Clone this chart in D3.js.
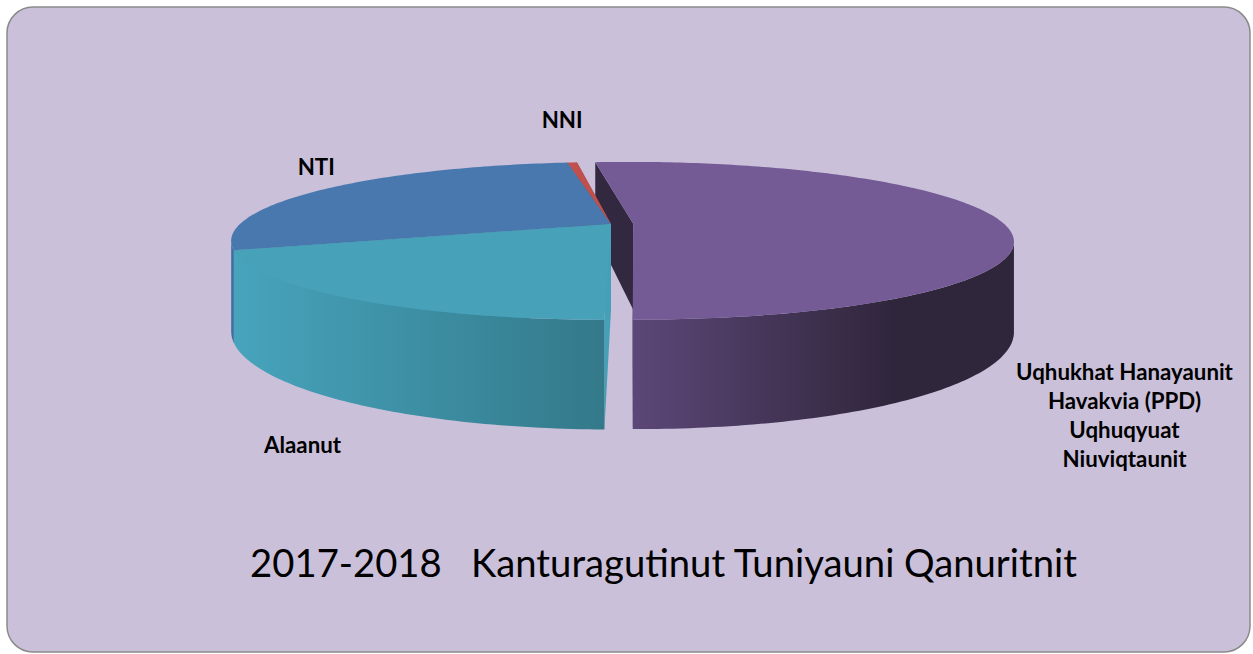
<!DOCTYPE html>
<html>
<head>
<meta charset="utf-8">
<script src="https://cdn.jsdelivr.net/npm/d3@7"></script>
<style>
  body { margin: 0; background: #fff; }
  text { font-family: Lato, "Open Sans", sans-serif; }
</style>
</head>
<body>
<div id="chart"></div>
<script>
// slice data, clockwise from the first slice angle
const categories = ["NTI", "NNI", "Uqhukhat Hanayaunit Havakvia (PPD) Uqhuqyuat Niuviqtaunit", "Alaanut"];
const labelLines = [["NTI"], ["NNI"], ["Uqhukhat Hanayaunit", "Havakvia (PPD)", "Uqhuqyuat", "Niuviqtaunit"], ["Alaanut"]];
const values = [28, 0.5, 52, 19.5];
const topColors = ["#4978AE", "#C0504D", "#745B95", "#47A1B8"];
const faceColors = ["#3D6592", "#9E403E", "#322840", "#44A0B6"];
const wallColors = [["#4978AE", "#3C6391"], ["#C0504D", "#9A3F3D"], ["#5C4778", "#30263C"], ["#47A4BC", "#33798A"]];
const explode = [0, 0, 0.06, 0];
const titleText = "2017-2018   Kanturagutinut Tuniyauni Qanuritnit";

const width = 1253, height = 654;
const firstAngle = 251;            // degrees, clockwise from 12 o'clock
const cx = 611, cy = 224, R = 371, ry = 75.3, persp = 0.215, depth = 86;
const rad = d => d * Math.PI / 180;

const svg = d3.select("#chart").append("svg")
    .attr("width", width)
    .attr("height", height);

svg.append("rect")
    .attr("x", 7).attr("y", 7)
    .attr("width", 1243).attr("height", 645)
    .attr("rx", 26).attr("ry", 26)
    .attr("fill", "#CBC0DA")
    .attr("stroke", "#8a8a8a")
    .attr("stroke-width", 1.5);

const defs = svg.append("defs");

const pie = d3.pie().sort(null)
    .startAngle(rad(firstAngle))
    .endAngle(rad(firstAngle) + 2 * Math.PI);
const arcs = pie(values).map((d, i) => {
    const a0 = d.startAngle, a1 = d.endAngle, mid = (a0 + a1) / 2;
    return { i, a0, a1, mid, ox: explode[i] * Math.sin(mid), oz: -explode[i] * Math.cos(mid) };
});

// unit disk point (X right, Z toward viewer) -> screen
function proj(X, Z, down) {
    const s = 1 / (1 - persp * Z);
    return [cx + R * X * s, cy + (ry * Z + depth * down) * s];
}
function rim(a, o, r = 1, down = 0) {
    return proj(o.ox + r * Math.sin(a), o.oz - r * Math.cos(a), down);
}
function arcPts(a0, a1, o, down) {
    const n = Math.max(2, Math.ceil(Math.abs(a1 - a0) / rad(1)));
    return d3.range(n + 1).map(k => rim(a0 + (a1 - a0) * k / n, o, 1, down));
}
const line = d3.line();

const gPie = svg.append("g");

// radial faces, back to front
const faces = [];
arcs.forEach(o => {
    [o.a0, o.a1].forEach(a => {
        faces.push({ o, a, z: o.oz - 0.5 * Math.cos(a) });
    });
});
faces.sort((p, q) => p.z - q.z);
gPie.selectAll(".face").data(faces).enter().append("path")
    .attr("class", "face")
    .attr("fill", f => faceColors[f.o.i])
    .attr("d", f => line([
        proj(f.o.ox, f.o.oz, 0), rim(f.a, f.o, 1, 0),
        rim(f.a, f.o, 1, 1), proj(f.o.ox, f.o.oz, 1)
    ]) + "Z");

// outer walls, only the part facing the viewer
const visLo = Math.acos(-persp), visHi = 2 * Math.PI - Math.acos(-persp);
const walls = [];
arcs.forEach(o => {
    [0, 2 * Math.PI].forEach(k => {
        const lo = Math.max(o.a0, visLo + k), hi = Math.min(o.a1, visHi + k);
        if (hi > lo) walls.push({ o, lo, hi });
    });
});
walls.forEach((w, j) => {
    const gr = defs.append("linearGradient").attr("id", "wall" + j)
        .attr("x1", "0%").attr("x2", "100%").attr("y1", "0%").attr("y2", "0%");
    const c = wallColors[w.o.i];
    gr.append("stop").attr("offset", "0%").attr("stop-color", c[0]);
    gr.append("stop").attr("offset", w.o.i === 2 ? "68%" : "100%").attr("stop-color", c[1]);
    gr.append("stop").attr("offset", "100%").attr("stop-color", c[1]);
});
gPie.selectAll(".wall").data(walls).enter().append("path")
    .attr("class", "wall")
    .attr("fill", (w, j) => `url(#wall${j})`)
    .attr("d", w => line(arcPts(w.lo, w.hi, w.o, 0).concat(arcPts(w.hi, w.lo, w.o, 1))) + "Z");

// top faces
gPie.selectAll(".top").data(arcs).enter().append("path")
    .attr("class", "top")
    .attr("fill", o => topColors[o.i])
    .attr("d", o => line([proj(o.ox, o.oz, 0)].concat(arcPts(o.a0, o.a1, o, 0))) + "Z");

// data labels
const labelPos = [[-10, -14], [-10, -34], [125, 160], [-45, 155]];
const lineH = 29;
const labels = svg.append("g").selectAll("text").data(arcs).enter().append("text")
    .attr("text-anchor", "middle")
    .attr("font-weight", "bold")
    .attr("font-size", 19)
    .attr("fill", "#000")
    .attr("transform", o => {
        const p = rim(o.mid, o, 1, 0);
        return `translate(${p[0] + labelPos[o.i][0]},${p[1] + labelPos[o.i][1]})`;
    });
labels.selectAll("tspan").data(o => labelLines[o.i]).enter().append("tspan")
    .attr("x", 0)
    .attr("y", (d, k) => k * lineH)
    .text(d => d);

// fit label size to the long PPD line
const probe = svg.append("text").attr("font-weight", "bold").attr("font-size", 20).text(labelLines[2][0]);
const lblSize = 20 * 217 / probe.node().getComputedTextLength();
probe.remove();
labels.attr("font-size", lblSize);

// title
const title = svg.append("text")
    .attr("x", 663.5).attr("y", 577)
    .attr("text-anchor", "middle")
    .attr("font-size", 38)
    .attr("fill", "#000")
    .style("white-space", "pre")
    .text(titleText);
const tw = title.node().getComputedTextLength();
title.attr("font-size", 38 * 827 / tw);
</script>
</body>
</html>
